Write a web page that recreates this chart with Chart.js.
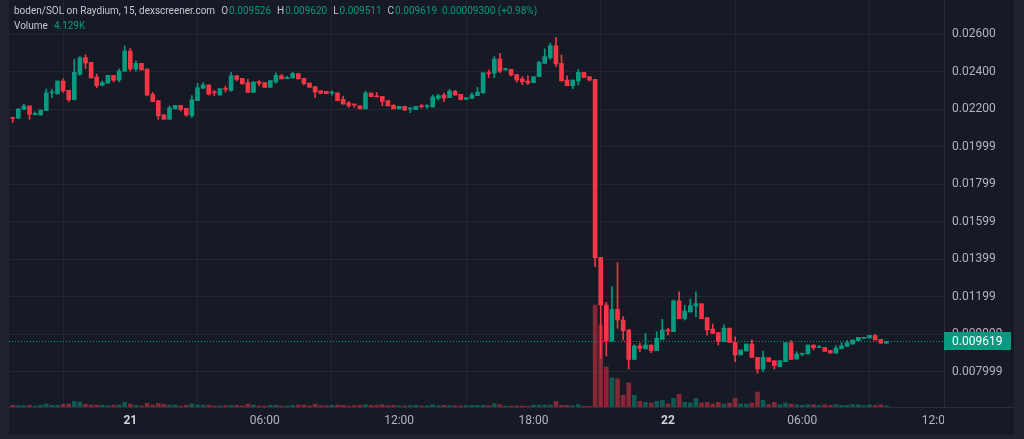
<!DOCTYPE html>
<html>
<head>
<meta charset="utf-8">
<script src="https://cdn.jsdelivr.net/npm/chart.js@4.4.1/dist/chart.umd.min.js"></script>
<style>
  html, body { margin: 0; padding: 0; width: 1024px; height: 439px; overflow: hidden; background: #1f232e; }
  #pane { position: absolute; left: 9px; top: 0; width: 1005px; height: 435px; background: #161a25; }
  #chart { position: absolute; left: 0; top: 0; }
  #legend { position: absolute; left: 5px; top: 3px; font: 10px Roboto, sans-serif; color: #c5c8d0; line-height: 15px; white-space: nowrap; }
  #legend .k { margin-left: 6px; }
  #legend .v { color: #089981; margin-left: 1px; }
</style>
</head>
<body>
<div id="pane">
  <canvas id="chart" width="1005" height="435"></canvas>
  <div id="legend"></div>
</div>
<script>
"use strict";

// 15 minute candles, first one at 20 18:45
const opens = [
    0.02157, 0.02152, 0.02200, 0.02218, 0.02171, 0.02170, 0.02193, 0.02288, 0.02282, 0.02351,
    0.02301, 0.02251, 0.02387, 0.02475, 0.02451, 0.02372, 0.02328, 0.02339, 0.02381, 0.02356,
    0.02403, 0.02511, 0.02415, 0.02445, 0.02415, 0.02280, 0.02246, 0.02171, 0.02147, 0.02202,
    0.02221, 0.02205, 0.02166, 0.02246, 0.02312, 0.02330, 0.02290, 0.02276, 0.02310, 0.02301,
    0.02379, 0.02365, 0.02342, 0.02290, 0.02347, 0.02342, 0.02317, 0.02346, 0.02379, 0.02363,
    0.02367, 0.02390, 0.02365, 0.02340, 0.02321, 0.02299, 0.02296, 0.02287, 0.02287, 0.02253,
    0.02234, 0.02225, 0.02219, 0.02202, 0.02287, 0.02269, 0.02269, 0.02246, 0.02221, 0.02202,
    0.02216, 0.02202, 0.02198, 0.02216, 0.02214, 0.02212, 0.02259, 0.02276, 0.02262, 0.02296,
    0.02280, 0.02253, 0.02258, 0.02273, 0.02287, 0.02392, 0.02392, 0.02468, 0.02412, 0.02413,
    0.02385, 0.02362, 0.02351, 0.02342, 0.02374, 0.02445, 0.02475, 0.02539, 0.02445, 0.02356,
    0.02326, 0.02351, 0.02397, 0.02374, 0.02360, 0.01410, 0.01156, 0.00964, 0.01133, 0.01076,
    0.01023, 0.00866, 0.00938, 0.00922, 0.00943, 0.00913, 0.00973, 0.01021, 0.01014, 0.01178,
    0.01083, 0.01119, 0.01151, 0.01163, 0.01089, 0.01028, 0.01009, 0.00961, 0.01033, 0.00957,
    0.00890, 0.00911, 0.00948, 0.00877, 0.00815, 0.00875, 0.00859, 0.00827, 0.00854, 0.00955,
    0.00868, 0.00894, 0.00895, 0.00943, 0.00929, 0.00930, 0.00914, 0.00900, 0.00923, 0.00936,
    0.00948, 0.00966, 0.00978, 0.00980, 0.00993, 0.00973, 0.009526
];
const highs = [
    0.02157, 0.02202, 0.02228, 0.02218, 0.02186, 0.02196, 0.02308, 0.02307, 0.02351, 0.02362,
    0.02301, 0.02467, 0.02481, 0.02490, 0.02451, 0.02387, 0.02351, 0.02381, 0.02381, 0.02415,
    0.02538, 0.02525, 0.02459, 0.02445, 0.02415, 0.02290, 0.02246, 0.02171, 0.02218, 0.02221,
    0.02221, 0.02205, 0.02273, 0.02339, 0.02342, 0.02330, 0.02301, 0.02310, 0.02324, 0.02397,
    0.02379, 0.02365, 0.02360, 0.02346, 0.02353, 0.02342, 0.02353, 0.02395, 0.02386, 0.02376,
    0.02397, 0.02390, 0.02365, 0.02340, 0.02321, 0.02299, 0.02296, 0.02297, 0.02287, 0.02271,
    0.02242, 0.02228, 0.02219, 0.02297, 0.02287, 0.02290, 0.02269, 0.02246, 0.02225, 0.02216,
    0.02216, 0.02209, 0.02216, 0.02227, 0.02225, 0.02276, 0.02280, 0.02287, 0.02306, 0.02301,
    0.02280, 0.02262, 0.02289, 0.02317, 0.02395, 0.02410, 0.02481, 0.02498, 0.02420, 0.02413,
    0.02385, 0.02374, 0.02379, 0.02374, 0.02456, 0.02522, 0.02552, 0.02584, 0.02490, 0.02378,
    0.02356, 0.02413, 0.02397, 0.02374, 0.02360, 0.01410, 0.01170, 0.01254, 0.01382, 0.01094,
    0.01027, 0.00943, 0.00952, 0.01005, 0.00943, 0.01014, 0.01080, 0.01032, 0.01183, 0.01227,
    0.01155, 0.01188, 0.01227, 0.01163, 0.01089, 0.01055, 0.01009, 0.01050, 0.01033, 0.00987,
    0.00916, 0.00948, 0.00970, 0.00877, 0.00911, 0.00875, 0.00859, 0.00859, 0.00955, 0.00966,
    0.00907, 0.00896, 0.00943, 0.00943, 0.00941, 0.00930, 0.00914, 0.00938, 0.00955, 0.00966,
    0.00970, 0.00984, 0.00984, 0.00995, 0.01000, 0.00973, 0.009620
];
const lows = [
    0.02129, 0.02152, 0.02200, 0.02147, 0.02171, 0.02168, 0.02193, 0.02262, 0.02282, 0.02290,
    0.02241, 0.02251, 0.02381, 0.02417, 0.02367, 0.02315, 0.02324, 0.02339, 0.02346, 0.02346,
    0.02403, 0.02404, 0.02403, 0.02410, 0.02271, 0.02241, 0.02147, 0.02147, 0.02147, 0.02202,
    0.02191, 0.02163, 0.02157, 0.02246, 0.02312, 0.02276, 0.02273, 0.02276, 0.02292, 0.02296,
    0.02351, 0.02335, 0.02290, 0.02290, 0.02326, 0.02317, 0.02317, 0.02339, 0.02362, 0.02363,
    0.02367, 0.02362, 0.02330, 0.02317, 0.02262, 0.02285, 0.02283, 0.02276, 0.02246, 0.02228,
    0.02211, 0.02211, 0.02202, 0.02202, 0.02267, 0.02266, 0.02219, 0.02218, 0.02202, 0.02202,
    0.02193, 0.02182, 0.02198, 0.02207, 0.02205, 0.02212, 0.02250, 0.02241, 0.02262, 0.02276,
    0.02251, 0.02253, 0.02258, 0.02273, 0.02287, 0.02369, 0.02369, 0.02395, 0.02406, 0.02378,
    0.02344, 0.02331, 0.02333, 0.02342, 0.02374, 0.02445, 0.02466, 0.02427, 0.02351, 0.02326,
    0.02310, 0.02330, 0.02370, 0.02351, 0.01361, 0.00872, 0.00884, 0.00964, 0.01032, 0.00970,
    0.00815, 0.00866, 0.00907, 0.00922, 0.00902, 0.00913, 0.00973, 0.00996, 0.01014, 0.01083,
    0.01076, 0.01119, 0.01094, 0.01083, 0.00996, 0.01005, 0.00943, 0.00961, 0.00957, 0.00854,
    0.00890, 0.00911, 0.00877, 0.00792, 0.00801, 0.00854, 0.00815, 0.00827, 0.00854, 0.00866,
    0.00868, 0.00886, 0.00895, 0.00916, 0.00929, 0.00909, 0.00900, 0.00900, 0.00923, 0.00936,
    0.00948, 0.00966, 0.00978, 0.00980, 0.00970, 0.00953, 0.009511
];
const closes = [
    0.02152, 0.02202, 0.02218, 0.02173, 0.02179, 0.02196, 0.02287, 0.02291, 0.02351, 0.02298,
    0.02251, 0.02397, 0.02475, 0.02447, 0.02367, 0.02326, 0.02342, 0.02381, 0.02355, 0.02404,
    0.02511, 0.02415, 0.02445, 0.02410, 0.02276, 0.02241, 0.02166, 0.02147, 0.02207, 0.02221,
    0.02200, 0.02170, 0.02251, 0.02315, 0.02330, 0.02280, 0.02288, 0.02310, 0.02306, 0.02379,
    0.02360, 0.02335, 0.02290, 0.02346, 0.02338, 0.02317, 0.02353, 0.02381, 0.02362, 0.02370,
    0.02392, 0.02362, 0.02337, 0.02317, 0.02292, 0.02285, 0.02283, 0.02289, 0.02246, 0.02228,
    0.02218, 0.02223, 0.02202, 0.02287, 0.02267, 0.02266, 0.02242, 0.02218, 0.02202, 0.02216,
    0.02196, 0.02204, 0.02216, 0.02214, 0.02216, 0.02266, 0.02273, 0.02260, 0.02297, 0.02276,
    0.02251, 0.02262, 0.02276, 0.02292, 0.02395, 0.02390, 0.02468, 0.02403, 0.02414, 0.02383,
    0.02356, 0.02346, 0.02340, 0.02374, 0.02451, 0.02481, 0.02539, 0.02442, 0.02351, 0.02326,
    0.02356, 0.02397, 0.02370, 0.02356, 0.01409, 0.01156, 0.00964, 0.01133, 0.01076, 0.01019,
    0.00866, 0.00938, 0.00925, 0.00943, 0.00913, 0.00979, 0.01023, 0.01018, 0.01178, 0.01083,
    0.01124, 0.01153, 0.01163, 0.01083, 0.01023, 0.01005, 0.00961, 0.01033, 0.00957, 0.00890,
    0.00916, 0.00948, 0.00877, 0.00815, 0.00877, 0.00854, 0.00833, 0.00859, 0.00955, 0.00866,
    0.00895, 0.00896, 0.00943, 0.00929, 0.00934, 0.00909, 0.00900, 0.00927, 0.00939, 0.00955,
    0.00970, 0.00984, 0.00984, 0.00995, 0.00970, 0.00953, 0.009619
];
// volume in thousands
const volumes = [
    6, 4.5, 4.5, 6, 3.5, 6, 10.5, 6, 6, 9.5,
    10.5, 20, 17.5, 9.5, 7, 7, 6, 4.5, 7, 7,
    16.5, 10.5, 6, 3.5, 13, 7, 13, 9.5, 7, 7,
    3.5, 6, 10.5, 7, 7, 6, 3.5, 3.5, 4.5, 6,
    6, 3.5, 10.5, 7, 3.5, 3.5, 6, 6, 3.5, 3.5,
    6, 7, 7, 3.5, 10.5, 4.5, 4.5, 6, 7, 6,
    3.5, 4.5, 6, 8, 6, 6, 8.5, 4.5, 6, 4.5,
    3.5, 4.5, 6, 3.5, 4.5, 8, 4.5, 6, 4.5, 4.5,
    3.5, 4.5, 6, 6, 6, 4.5, 11.5, 8, 2.5, 3.5,
    3.5, 3.5, 2.5, 7, 7, 7, 7, 20, 6, 6,
    4.5, 8, 2.5, 2.5, 357, 287, 140, 101.5, 99, 41,
    85, 41, 20, 16.5, 14, 20, 23.5, 10.5, 30.5, 44.5,
    16.5, 14, 30.5, 14, 16.5, 10.5, 16.5, 10.5, 14, 30.5,
    10.5, 10.5, 14, 52.5, 23.5, 8, 16.5, 8, 14, 10.5,
    7, 6, 8, 8, 6, 8, 6, 8, 6, 6,
    8, 8, 4.5, 8, 6, 8, 4.129
];

const xTickIndex = [21, 45, 69, 93, 117, 141, 165];
const xTickLabels = ["21", "06:00", "12:00", "18:00", "22", "06:00", "12:00"];
const xDayTicks = ["21", "22"];
const yTickValues = [0.028, 0.026, 0.024, 0.022, 0.020, 0.018, 0.016, 0.014, 0.012, 0.010, 0.008];
const yTickLabels = ["0.02800", "0.02600", "0.02400", "0.02200", "0.01999", "0.01799", "0.01599", "0.01399", "0.01199", "0.009999", "0.007999"];

const UP = "#089981";
const DOWN = "#F23645";
const UP_VOL = "rgba(8, 153, 129, 0.5)";
const DOWN_VOL = "rgba(242, 54, 69, 0.5)";
const GRID = "rgba(42, 46, 57, 0.6)";
const TEXT = "#b2b5be";
const FONT = "Roboto, sans-serif";
const Y_MIN = 0.006123;
const Y_MAX = 0.027829;

const isUp = opens.map((o, i) => closes[i] >= o);
const last = opens.length - 1;

/* --- Legend --- */
function renderLegend() {
    const change = closes[last] - opens[last];
    const pct = change / opens[last] * 100;
    const sign = change >= 0 ? "+" : "";
    document.getElementById("legend").innerHTML = `
        <div>boden/SOL on Raydium, 15, dexscreener.com<span class="k">O</span><span class="v">${opens[last].toFixed(6)}</span><span class="k">H</span><span class="v">${highs[last].toFixed(6)}</span><span class="k">L</span><span class="v">${lows[last].toFixed(6)}</span><span class="k">C</span><span class="v">${closes[last].toFixed(6)}</span><span class="v" style="margin-left:5px">${change.toFixed(8)} (${sign}${pct.toFixed(2)}%)</span></div>
        <div>Volume<span class="v" style="margin-left:6px">${volumes[last].toFixed(3)}K</span></div>`;
}

/* --- Extras drawn on top: time labels, last price line and tag --- */
const overlayPlugin = {
    id: "overlay",
    afterDraw(chart) {
        const { ctx, chartArea: a, scales: { x, y } } = chart;

        ctx.save();
        ctx.strokeStyle = "#2a2e39";
        ctx.lineWidth = 1;
        ctx.beginPath();
        ctx.moveTo(0, Math.round(a.bottom) + 0.5);
        ctx.lineTo(chart.width, Math.round(a.bottom) + 0.5);
        ctx.stroke();
        ctx.restore();

        // price labels that fall just outside the visible range (top edge)
        ctx.save();
        ctx.fillStyle = TEXT;
        ctx.font = "12px " + FONT;
        ctx.textAlign = "left";
        ctx.textBaseline = "middle";
        yTickValues.forEach((v, k) => {
            if (v > Y_MAX) ctx.fillText(yTickLabels[k], a.right + 8, y.getPixelForValue(v));
        });
        ctx.restore();

        // time labels, clipped where the price scale begins
        ctx.save();
        ctx.beginPath();
        ctx.rect(a.left, a.bottom, a.right - a.left, chart.height - a.bottom);
        ctx.clip();
        ctx.textAlign = "center";
        ctx.textBaseline = "middle";
        xTickIndex.forEach((v, k) => {
            const bold = xDayTicks.includes(xTickLabels[k]);
            ctx.font = (bold ? "bold " : "") + "12px " + FONT;
            ctx.fillStyle = bold ? "#d1d4dc" : TEXT;
            ctx.fillText(xTickLabels[k], x.getPixelForValue(v), a.bottom + 14);
        });
        ctx.restore();

        // last price
        const py = Math.round(y.getPixelForValue(closes[last])) + 0.5;
        const col = isUp[last] ? UP : DOWN;
        ctx.save();
        ctx.strokeStyle = col;
        ctx.lineWidth = 1;
        ctx.setLineDash([1, 2]);
        ctx.beginPath();
        ctx.moveTo(a.left, py);
        ctx.lineTo(a.right, py);
        ctx.stroke();
        ctx.setLineDash([]);
        ctx.fillStyle = col;
        ctx.fillRect(a.right, py - 9.5, 67, 18);
        ctx.fillStyle = "#ffffff";
        ctx.font = "12px " + FONT;
        ctx.textAlign = "left";
        ctx.textBaseline = "middle";
        ctx.fillText(closes[last].toFixed(6), a.right + 8, py);
        ctx.restore();
    }
};

function renderChart() {
    const ctx = document.getElementById("chart").getContext("2d");
    const idx = opens.map((_, i) => i);

    new Chart(ctx, {
        type: "bar",
        data: {
            datasets: [
                {
                    label: "body",
                    data: idx.map(i => ({ x: i, y: [opens[i], closes[i]] })),
                    backgroundColor: isUp.map(u => u ? UP : DOWN),
                    barThickness: 4,
                    minBarLength: 1,
                    grouped: false,
                    yAxisID: "y",
                    order: 1
                },
                {
                    label: "wick",
                    data: idx.map(i => ({ x: i, y: [lows[i], highs[i]] })),
                    backgroundColor: isUp.map(u => u ? UP : DOWN),
                    barThickness: 1,
                    minBarLength: 1,
                    grouped: false,
                    yAxisID: "y",
                    order: 2
                },
                {
                    label: "volume",
                    data: idx.map(i => ({ x: i, y: volumes[i] })),
                    backgroundColor: isUp.map(u => u ? UP_VOL : DOWN_VOL),
                    barThickness: 4,
                    grouped: false,
                    yAxisID: "yv",
                    order: 3
                }
            ]
        },
        options: {
            responsive: false,
            animation: false,
            devicePixelRatio: 1,
            layout: { padding: 0 },
            plugins: {
                legend: { display: false },
                tooltip: { enabled: false }
            },
            scales: {
                x: {
                    type: "linear",
                    min: -0.66,
                    max: 166.3,
                    offset: false,
                    afterBuildTicks: s => { s.ticks = xTickIndex.map(v => ({ value: v })); },
                    afterFit: s => { s.height = 28; s.paddingLeft = 0; s.paddingRight = 0; },
                    ticks: { display: false },
                    grid: { color: GRID, drawTicks: false },
                    border: { display: false }
                },
                y: {
                    type: "linear",
                    position: "right",
                    min: Y_MIN,
                    max: Y_MAX,
                    afterBuildTicks: s => { s.ticks = yTickValues.filter(v => v <= Y_MAX).map(v => ({ value: v })); },
                    afterFit: s => { s.width = 70; s.paddingTop = 0; s.paddingBottom = 0; },
                    ticks: {
                        color: TEXT,
                        padding: 8,
                        autoSkip: false,
                        font: { family: FONT, size: 12 },
                        callback: v => yTickLabels[yTickValues.indexOf(v)] ?? ""
                    },
                    grid: { color: GRID, drawTicks: false },
                    border: { color: "#2a2e39" }
                },
                yv: {
                    type: "linear",
                    display: false,
                    min: 0,
                    max: 1425
                }
            }
        },
        plugins: [overlayPlugin]
    });
}

document.addEventListener("DOMContentLoaded", () => {
    renderLegend();
    renderChart();
});
</script>
</body>
</html>
